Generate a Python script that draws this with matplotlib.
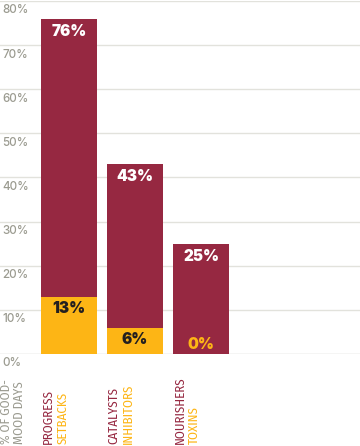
import matplotlib.pyplot as plt
from matplotlib import transforms

# data
good = ['PROGRESS', 'CATALYSTS', 'NOURISHERS']
bad = ['SETBACKS', 'INHIBITORS', 'TOXINS']
good_pct = [76, 43, 25]
bad_pct = [13, 6, 0]
yticks = [0, 10, 20, 30, 40, 50, 60, 70, 80]

maroon = '#962841'
yellow = '#FDB515'
grey = '#9b9b90'
cond = ['Fira Sans Condensed', 'DejaVu Sans']

fig = plt.figure(figsize=(3.6, 4.46), dpi=100)
ax = fig.add_axes([0, 92 / 446, 1, 353 / 446])

x = list(range(len(good)))
w = 56 / 66
ax.bar(x, good_pct, width=w, color=maroon, zorder=2)
ax.bar(x, bad_pct, width=w, color=yellow, zorder=3)

ax.set_xlim(-69 / 66, 291 / 66)
ax.set_ylim(0, 80)

# gridlines and tick labels beneath them
for t in yticks:
    ax.axhline(t, color='#cfcfc7' if t == 0 else '#e2e2dc', lw=1, zorder=1)
    ax.annotate(f'{t}%', xy=(0, t), xycoords=('axes fraction', 'data'),
                xytext=(1.5, -2.5), textcoords='offset points', ha='left', va='top',
                color=grey, fontsize=8.4, fontweight='medium', family=['Inter', 'DejaVu Sans'])

# value labels
val_font = dict(textcoords='offset points', ha='center', fontsize=11,
                fontweight='black', family=['Inter', 'DejaVu Sans'], zorder=4)
for i in x:
    ax.annotate(f'{good_pct[i]}%', xy=(i, good_pct[i]), xytext=(0, -3.5),
                va='top', color='white', **val_font)
    if bad_pct[i] > 0:
        ax.annotate(f'{bad_pct[i]}%', xy=(i, bad_pct[i]), xytext=(0, -3.5),
                    va='top', color='#231f20', **val_font)
    else:
        ax.annotate(f'{bad_pct[i]}%', xy=(i, 0), xytext=(0, 1.5),
                    va='bottom', color=yellow, **val_font)

ax.axis('off')

# category labels, rotated under the bars
trans = transforms.blended_transform_factory(ax.transData, fig.transFigure)
lab_font = dict(rotation=90, ha='left', va='bottom', fontsize=9.3, family=cond)
for i in x:
    left = transforms.offset_copy(trans, fig=fig, x=1, y=0, units='dots')
    ax.text(i - w / 2, 2 / 446, good[i], color=maroon, transform=left, **lab_font)
    right = transforms.offset_copy(trans, fig=fig, x=15.5, y=0, units='dots')
    ax.text(i - w / 2, 2 / 446, bad[i], color=yellow, transform=right, **lab_font)

fig.text(-0.5 / 360, 2 / 446, '% OF GOOD-\nMOOD DAYS', rotation=90, ha='left', va='bottom',
         color=grey, fontsize=9.3, linespacing=1.15, family=cond)

fig.savefig('out.png', dpi=100)
